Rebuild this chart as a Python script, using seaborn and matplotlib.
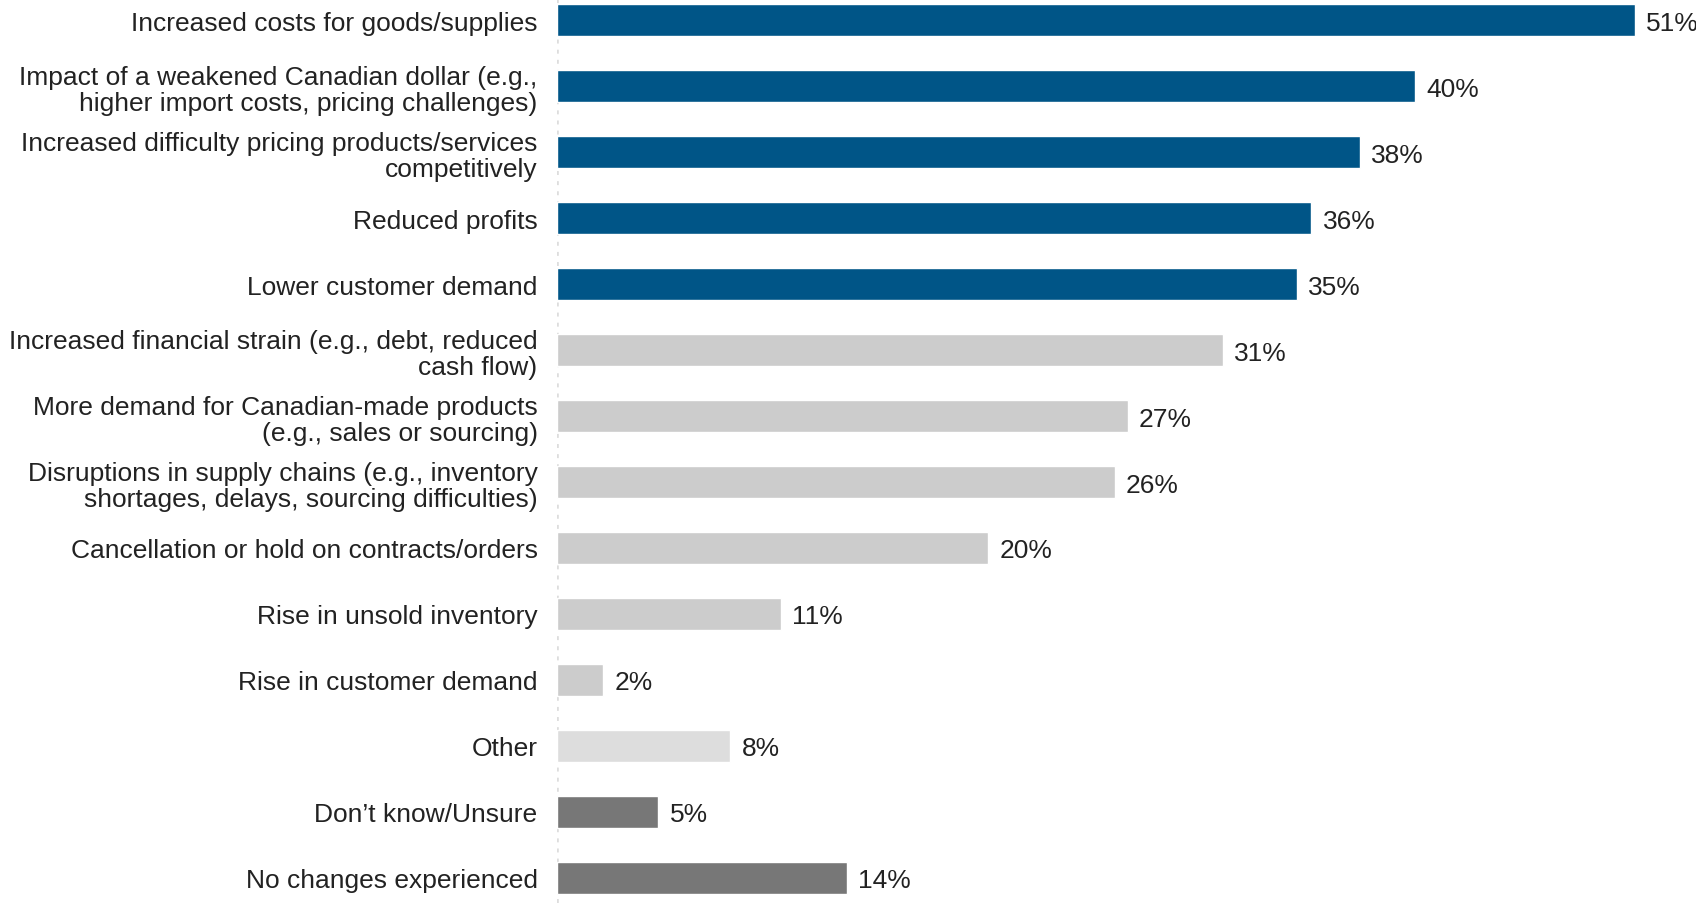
import matplotlib
matplotlib.use("Agg")
import pandas as pd
import seaborn as sns
import matplotlib.pyplot as plt

CATEGORIES = [
    "Increased costs for goods/supplies",
    "Impact of a weakened Canadian dollar (e.g.,\nhigher import costs, pricing challenges)",
    "Increased difficulty pricing products/services\ncompetitively",
    "Reduced profits",
    "Lower customer demand",
    "Increased financial strain (e.g., debt, reduced\ncash flow)",
    "More demand for Canadian-made products\n(e.g., sales or sourcing)",
    "Disruptions in supply chains (e.g., inventory\nshortages, delays, sourcing difficulties)",
    "Cancellation or hold on contracts/orders",
    "Rise in unsold inventory",
    "Rise in customer demand",
    "Other",
    "Don\u2019t know/Unsure",
    "No changes experienced",
]
# printed percentages
PCT_LABELS = [51, 40, 38, 36, 35, 31, 27, 26, 20, 11, 2, 8, 5, 14]
# bar lengths (slightly off the rounded labels)
VALUES = [51.0, 40.6, 38.0, 35.7, 35.0, 31.5, 27.0, 26.4, 20.4, 10.6, 2.2, 8.2, 4.8, 13.7]
COLORS = ["#005587"] * 5 + ["#cccccc"] * 6 + ["#dddddd"] + ["#777777"] * 2

df = pd.DataFrame({"label": CATEGORIES, "value": VALUES, "pct": PCT_LABELS})

sns.set_style("white")
plt.rcParams["font.family"] = ["Liberation Sans", "DejaVu Sans"]

fig = plt.figure(figsize=(16.96, 9.04), dpi=100)
ax = fig.add_axes([557 / 1696, 0, 1 - 557 / 1696, 1])

sns.barplot(data=df, x="value", y="label", hue="label", palette=COLORS,
            legend=False, width=0.485, ax=ax, saturation=1)

# one container per hue level, same order as the categories
for c, p in zip(ax.containers, df["pct"]):
    txt = ax.bar_label(c, labels=[f"{p}%"], padding=8, fontsize=19, color="#222222")
    for t in txt:
        t.set_va("center_baseline")

ax.axvline(0, color="#dddddd", lw=2.6, linestyle=(0, (1.1, 1.7)), zorder=0)

ax.set_xlim(0, 53.9)
ax.set_ylim(13.38, -0.32)
ax.set_xlabel("")
ax.set_ylabel("")
ax.set_xticks([])
ax.tick_params(axis="y", length=0, pad=14, labelsize=19, labelcolor="#222222")
for t in ax.get_yticklabels():
    t.set_multialignment("right")
    t.set_linespacing(1.15)
sns.despine(ax=ax, left=True, bottom=True)

fig.savefig("out.png", dpi=100)
